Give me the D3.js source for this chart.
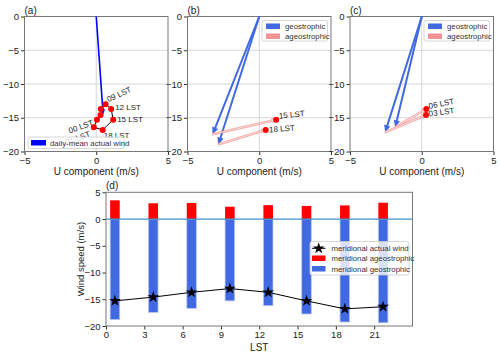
<!DOCTYPE html>
<html>
<head>
<meta charset="utf-8">
<script src="https://cdn.jsdelivr.net/npm/d3@7"></script>
<style>
  body { margin: 0; background: #fff; }
  svg { font-family: "Liberation Sans", Arial, sans-serif; }
</style>
</head>
<body>
<div id="chart"></div>
<script>
// LST hours (bins) and components
var hours = [0, 3, 6, 9, 12, 15, 18, 21];
var hourLabels = ["00 LST", "03 LST", "06 LST", "09 LST", "12 LST", "15 LST", "18 LST", "21 LST"];
var barX = [0.7, 3.7, 6.7, 9.7, 12.7, 15.7, 18.7, 21.7];
// actual wind
var actualU = [0.05, 0.3, 0.32, 0.65, 1.04, 1.18, 0.45, -0.17];
var actualV = [-15.3, -14.6, -13.7, -13.0, -13.7, -15.3, -16.8, -16.4];
// geostrophic / ageostrophic meridional
var geoU = [null, -2.55, -1.85, null, null, -3.25, -2.85, null];
var geoV = [-18.8, -17.45, -16.7, -15.3, -16.2, -17.75, -19.25, -19.4];
var ageoV = [3.5, 2.95, 3.0, 2.3, 2.6, 2.45, 2.55, 3.05];
var meanWind = [0.48, -14.5];
var hodoTicksX = [-5, 0, 5];
var hodoTicksY = [0, -5, -10, -15, -20];
var lstTicks = [0, 3, 6, 9, 12, 15, 18, 21];
var speedTicks = [5, 0, -5, -10, -15, -20];

var W = 500, H = 355;
var svg = d3.select("#chart").append("svg").attr("width", W).attr("height", H);

// arrow polygon in pixel space
function arrowPts(x0, y0, x1, y1, w, hl, hw) {
	var dx = x1 - x0, dy = y1 - y0;
	var L = Math.sqrt(dx*dx + dy*dy);
	var ux = dx / L, uy = dy / L, nx = -uy, ny = ux;
	var bx = x1 - ux*hl, by = y1 - uy*hl;
	var p = [
		[x0 + nx*w/2, y0 + ny*w/2],
		[bx + nx*w/2, by + ny*w/2],
		[bx + nx*hw/2, by + ny*hw/2],
		[x1, y1],
		[bx - nx*hw/2, by - ny*hw/2],
		[bx - nx*w/2, by - ny*w/2],
		[x0 - nx*w/2, y0 - ny*w/2]
	];
	return p.map(function(d) { return d.join(","); }).join(" ");
}

function styleAxis(g) {
	g.select(".domain").remove();
	g.selectAll(".tick line").attr("stroke", "#333");
	g.selectAll(".tick text").attr("fill", "#222").style("font-size", "9.5px");
}

function legendBox(x, y, w, h) {
	svg.append("rect").attr("x", x).attr("y", y).attr("width", w).attr("height", h)
		.attr("rx", 2).attr("fill", "white").attr("fill-opacity", 0.8)
		.attr("stroke", "#ccc").attr("stroke-width", 0.8);
}

function hodo(left, label, shown, labelPos) {
	var x = d3.scaleLinear().domain([-5, 5]).range([left, left + 143.5]);
	var y = d3.scaleLinear().domain([-20, 0]).range([151.5, 16.5]);
	var g = svg.append("g");

	// grid
	g.selectAll(".gy").data([-5, -10, -15]).enter().append("line")
		.attr("x1", x(-5)).attr("x2", x(5)).attr("y1", y).attr("y2", y)
		.attr("stroke", "#d6d6d6").attr("stroke-width", 1);
	g.append("line").attr("x1", x(0)).attr("x2", x(0)).attr("y1", y(0)).attr("y2", y(-20))
		.attr("stroke", "#d6d6d6").attr("stroke-width", 1);

	g.append("g").attr("transform", "translate(0," + y(-20) + ")")
		.call(d3.axisBottom(x).tickValues(hodoTicksX).tickSize(3.5).tickPadding(2)).call(styleAxis);
	g.append("g").attr("transform", "translate(" + x(-5) + ",0)")
		.call(d3.axisLeft(y).tickValues(hodoTicksY).tickSize(3.5).tickPadding(2)).call(styleAxis);

	g.append("rect").attr("x", x(-5)).attr("y", y(0)).attr("width", x(5) - x(-5)).attr("height", y(-20) - y(0))
		.attr("fill", "none").attr("stroke", "#777").attr("stroke-width", 1);

	g.append("text").attr("x", (x(-5) + x(5)) / 2).attr("y", 175).attr("text-anchor", "middle")
		.style("font-size", "10px").attr("fill", "#222").text("U component (m/s)");
	g.append("text").attr("x", x(-5)).attr("y", 14).style("font-size", "10px").attr("fill", "#222").text(label);

	if (shown === null) {
		// panel (a): daily-mean arrow + diurnal loop
		g.append("polygon").attr("points", arrowPts(x(0), y(0), x(meanWind[0]), y(meanWind[1]), 1.6, 5, 4.5))
			.attr("fill", "#0000ff");
		var loop = hours.map(function(h, i) { return [x(actualU[i]), y(actualV[i])]; });
		g.append("path").attr("d", d3.line()(loop) + "Z").attr("fill", "none").attr("stroke", "black").attr("stroke-width", 1);
		g.selectAll(".pt").data(loop).enter().append("circle")
			.attr("cx", function(d) { return d[0]; }).attr("cy", function(d) { return d[1]; })
			.attr("r", 3).attr("fill", "#ff0000");
		shown = [0, 3, 4, 5, 6, 7];
	} else {
		shown.forEach(function(i) {
			var gx = x(geoU[i]), gy = y(geoV[i] + 0.3);
			g.append("polygon").attr("points", arrowPts(x(0), y(0), gx, gy, 2, 7, 6.5)).attr("fill", "#4169e1");
		});
		shown.forEach(function(i) {
			var gx = x(geoU[i]), gy = y(geoV[i] + 0.3);
			g.append("polygon").attr("points", arrowPts(gx, gy, x(actualU[i]), y(actualV[i]), 1.7, 4, 4))
				.attr("fill", "#fbe0e0").attr("stroke", "#f08080").attr("stroke-width", 0.6);
		});
		shown.forEach(function(i) {
			g.append("circle").attr("cx", x(actualU[i])).attr("cy", y(actualV[i])).attr("r", 3).attr("fill", "#ff0000");
		});
	}
	shown.forEach(function(i) {
		var p = labelPos[hours[i]];
		var px = x(actualU[i]) + p[0], py = y(actualV[i]) + p[1];
		g.append("text").attr("x", px).attr("y", py).attr("text-anchor", p[3])
			.attr("transform", "rotate(" + p[2] + "," + px + "," + py + ")")
			.style("font-size", "8px").attr("fill", "#222").text(hourLabels[i]);
	});
	return g;
}

// label placement: [dx, dy, rotation, anchor]
hodo(24.5, "(a)", null, {
	0: [-3, 5, -20, "end"],
	9: [3, -2, -25, "start"], 12: [4, 1, 0, "start"], 15: [4, 2, 0, "start"],
	18: [1, 8.5, 0, "start"], 21: [-3, 9, -20, "end"]
});
hodo(187.5, "(b)", [5, 6], { 15: [3, -1, -6, "start"], 18: [3.5, 2.5, -4, "start"] });
hodo(350, "(c)", [2, 1], { 6: [3, 0, -12, "start"], 3: [3, 1.5, -8, "start"] });

// legends a-c
legendBox(28, 137, 96, 11.5);
svg.append("rect").attr("x", 31).attr("y", 140).attr("width", 15).attr("height", 5.5).attr("fill", "#0000ff");
svg.append("text").attr("x", 50).attr("y", 145.5).style("font-size", "7.8px").attr("fill", "#333").text("daily-mean actual wind");

[262, 424].forEach(function(lx) {
	legendBox(lx, 20.5, 65.5, 20.5);
	svg.append("rect").attr("x", lx + 4).attr("y", 23.5).attr("width", 14).attr("height", 5.5).attr("fill", "#4169e1");
	svg.append("rect").attr("x", lx + 4).attr("y", 33.5).attr("width", 14).attr("height", 5.5).attr("fill", "#f08080").attr("fill-opacity", 0.85);
	svg.append("text").attr("x", lx + 23).attr("y", 29).style("font-size", "7.8px").attr("fill", "#333").text("geostrophic");
	svg.append("text").attr("x", lx + 23).attr("y", 39).style("font-size", "7.8px").attr("fill", "#333").text("ageostrophic");
});

// panel (d)
var xd = d3.scaleLinear().domain([0, 24]).range([106, 412.5]);
var yd = d3.scaleLinear().domain([-20, 5]).range([326, 192.3]);
var gd = svg.append("g");
var bw = xd(0.75) - xd(0);

gd.selectAll(".geo").data(geoV).enter().append("rect")
	.attr("x", function(d, i) { return xd(barX[i]) - bw/2; }).attr("y", yd(0))
	.attr("width", bw).attr("height", function(d) { return yd(d) - yd(0); })
	.attr("fill", "#4169e1").attr("stroke", "#b9c6ee").attr("stroke-width", 0.8);
gd.selectAll(".ageo").data(ageoV).enter().append("rect")
	.attr("x", function(d, i) { return xd(barX[i]) - bw/2; }).attr("y", function(d) { return yd(d); })
	.attr("width", bw).attr("height", function(d) { return yd(0) - yd(d); })
	.attr("fill", "#ff0000");
gd.append("line").attr("x1", xd(0)).attr("x2", xd(24)).attr("y1", yd(0)).attr("y2", yd(0))
	.attr("stroke", "#3f94c9").attr("stroke-width", 1.3);

var pts = actualV.map(function(v, i) { return [xd(barX[i]), yd(v)]; });
gd.append("path").attr("d", d3.line()(pts)).attr("fill", "none").attr("stroke", "black").attr("stroke-width", 1);
var star = d3.symbol().type(d3.symbolStar).size(42);
gd.selectAll(".star").data(pts).enter().append("path").attr("d", star)
	.attr("transform", function(d) { return "translate(" + d[0] + "," + d[1] + ")"; }).attr("fill", "black");

gd.append("g").attr("transform", "translate(0," + yd(-20) + ")")
	.call(d3.axisBottom(xd).tickValues(lstTicks).tickSize(3.5).tickPadding(2)).call(styleAxis);
gd.append("g").attr("transform", "translate(" + xd(0) + ",0)")
	.call(d3.axisLeft(yd).tickValues(speedTicks).tickSize(3.5).tickPadding(2)).call(styleAxis);
gd.append("rect").attr("x", xd(0)).attr("y", yd(5)).attr("width", xd(24) - xd(0)).attr("height", yd(-20) - yd(5))
	.attr("fill", "none").attr("stroke", "#777").attr("stroke-width", 1);

gd.append("text").attr("x", xd(12)).attr("y", 351).attr("text-anchor", "middle")
	.style("font-size", "10px").attr("fill", "#222").text("LST");
gd.append("text").attr("transform", "translate(84," + yd(-7.5) + ") rotate(-90)").attr("text-anchor", "middle")
	.style("font-size", "9.5px").attr("fill", "#222").text("Wind speed (m/s)");
gd.append("text").attr("x", xd(0)).attr("y", 189).style("font-size", "10px").attr("fill", "#222").text("(d)");

// legend d (drawn on top)
legendBox(310, 241.5, 99, 33.5);
svg.append("line").attr("x1", 312).attr("x2", 325.5).attr("y1", 248.3).attr("y2", 248.3).attr("stroke", "black");
svg.append("path").attr("d", star).attr("transform", "translate(318.7,248.3)").attr("fill", "black");
svg.append("rect").attr("x", 312).attr("y", 255.5).attr("width", 13.5).attr("height", 5.5).attr("fill", "#ff0000");
svg.append("rect").attr("x", 312).attr("y", 266).attr("width", 13.5).attr("height", 5.5).attr("fill", "#4169e1");
["meridional actual wind", "meridional ageostrophic", "meridional geostrophic"].forEach(function(t, i) {
	svg.append("text").attr("x", 331.5).attr("y", 251 + i*10.4).style("font-size", "7.8px").attr("fill", "#333").text(t);
});
</script>
</body>
</html>
